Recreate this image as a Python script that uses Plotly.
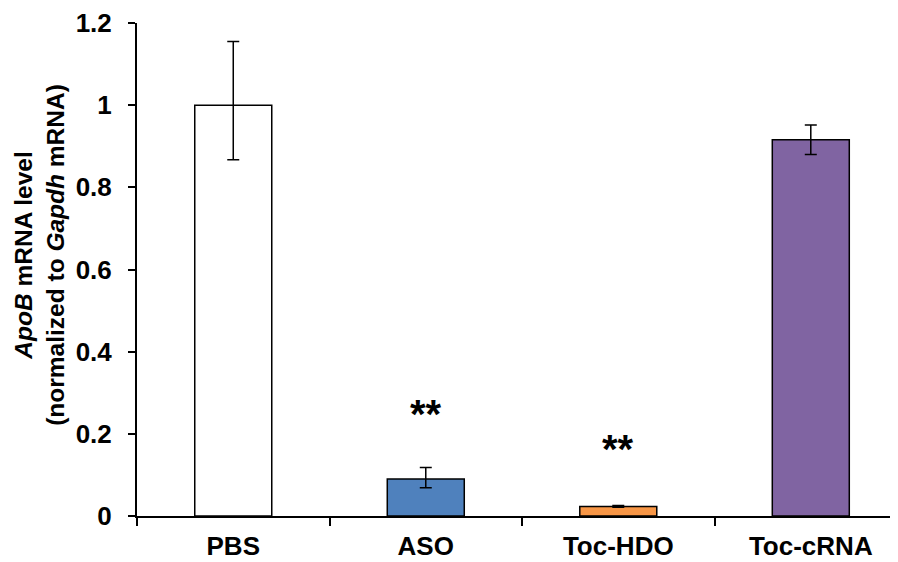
import plotly.graph_objects as go

categories = ["PBS", "ASO", "Toc-HDO", "Toc-cRNA"]
values = [1.0, 0.090, 0.0234, 0.916]
err_plus = [0.155, 0.028, 0.002, 0.036]
err_minus = [0.133, 0.021, 0.002, 0.036]
colors = ["#FFFFFF", "#4F81BD", "#F79646", "#8064A2"]
y_ticks = [0, 0.2, 0.4, 0.6, 0.8, 1.0, 1.2]
y_tick_labels = ["0", "0.2", "0.4", "0.6", "0.8", "1", "1.2"]
star_labels = ["", "**", "**", ""]
star_y = [None, 0.2475, 0.163, None]

FONT = "Liberation Sans, Arial, sans-serif"

fig = go.Figure()
fig.add_trace(go.Bar(
    x=categories,
    y=values,
    width=0.4,
    marker=dict(color=colors, line=dict(color="black", width=1.5)),
    error_y=dict(type="data", symmetric=False, array=err_plus, arrayminus=err_minus,
                 color="black", thickness=1.5, width=6),
    showlegend=False,
))

for cat, lab, sy in zip(categories, star_labels, star_y):
    if lab:
        fig.add_annotation(x=cat, y=sy, text="<b>" + lab + "</b>", showarrow=False,
                           font=dict(family=FONT, size=40, color="black"),
                           xanchor="center", yanchor="middle")

fig.add_annotation(
    xref="paper", yref="paper", x=-0.128, y=0.529,
    text="<b><i>ApoB</i> mRNA level<br>(normalized to <i>Gapdh</i> mRNA)</b>",
    textangle=-90, showarrow=False, xanchor="center", yanchor="middle",
    font=dict(family=FONT, size=24.5, color="black"),
)

fig.update_layout(
    width=890, height=554,
    margin=dict(l=129, r=0, t=11, b=46),
    paper_bgcolor="white", plot_bgcolor="white",
    font=dict(family=FONT, size=26, color="black"),
)
fig.update_xaxes(
    type="category", range=[-0.5, 3.453],
    showline=True, linecolor="black", linewidth=2,
    ticks="outside", tickson="boundaries", ticklen=8, tickwidth=1.5, tickcolor="black",
    tickfont=dict(family=FONT, size=26, color="black"),
    tickvals=categories, ticktext=["<b>" + c + "</b>" for c in categories],
    ticklabelstandoff=6, ticklabeloverflow="allow",
    showgrid=False, zeroline=False,
)
fig.update_yaxes(
    range=[0, 1.2],
    showline=True, linecolor="black", linewidth=2,
    ticks="outside", ticklen=7, tickwidth=1.5, tickcolor="black",
    tickvals=y_ticks, ticktext=["<b>" + t + "</b>" for t in y_tick_labels],
    tickfont=dict(family=FONT, size=26, color="black"),
    ticklabelstandoff=11, ticklabeloverflow="allow",
    showgrid=False, zeroline=False,
)

fig.write_html("out.html")
